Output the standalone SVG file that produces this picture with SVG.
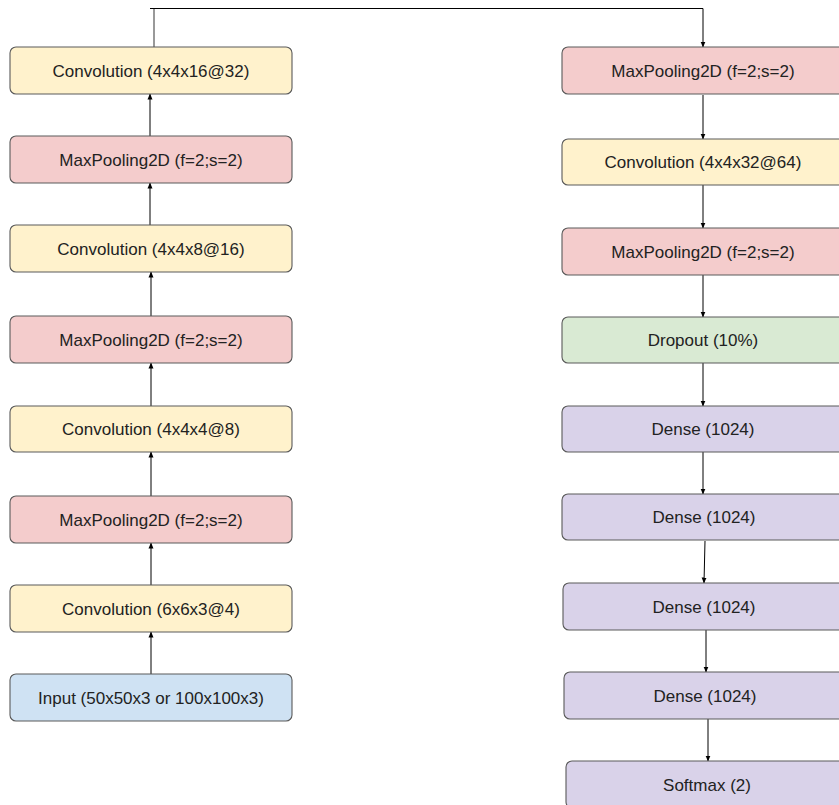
<svg xmlns="http://www.w3.org/2000/svg" width="839" height="805" viewBox="0 0 839 805">
<defs>
<marker id="ah" markerUnits="userSpaceOnUse" markerWidth="6" markerHeight="7" refX="3" refY="6" orient="auto-start-reverse" viewBox="0 0 6 7">
<path d="M0,0 L6,0 L3,6 Z" fill="#000" transform="rotate(0)"/>
</marker>
<marker id="a" markerUnits="userSpaceOnUse" markerWidth="6" markerHeight="6" refX="5.5" refY="3" orient="auto" viewBox="0 0 6 6">
<path d="M0,0.5 L6,3 L0,5.5 Z" fill="#000"/>
</marker>
<style>
rect{stroke:#5a5a5a;stroke-width:1.1}
.y{fill:#fff2cc}.r{fill:#f4cccc}.b{fill:#cfe2f3}.g{fill:#d9ead3}.p{fill:#d9d2e9}
text{font-family:"Liberation Sans",Arial,sans-serif;font-size:17px;fill:#222;text-anchor:middle}
.c line,.c path{stroke:#000;stroke-width:1;fill:none}
</style>
</defs>
<rect width="839" height="805" fill="#fff" style="stroke:none"/>
<g class="c" id="connectors">
<path d="M154,47 V8.5" style="stroke:#777;stroke-width:1.5"/>
<path d="M150,8.5 H703 V47" marker-end="url(#a)"/>
<line x1="151" y1="674" x2="151" y2="632" marker-end="url(#a)"/>
<line x1="151" y1="585" x2="151" y2="543" marker-end="url(#a)"/>
<line x1="151" y1="496" x2="151" y2="452" marker-end="url(#a)"/>
<line x1="151" y1="406" x2="151" y2="363" marker-end="url(#a)"/>
<line x1="151" y1="316" x2="151" y2="272" marker-end="url(#a)"/>
<line x1="150" y1="225" x2="150" y2="183" marker-end="url(#a)"/>
<line x1="150" y1="136" x2="150" y2="94" marker-end="url(#a)"/>
<line x1="703" y1="95" x2="703" y2="139" marker-end="url(#a)"/>
<line x1="703" y1="185" x2="703" y2="228" marker-end="url(#a)"/>
<line x1="703" y1="275" x2="703" y2="317" marker-end="url(#a)"/>
<line x1="703" y1="363" x2="703" y2="406" marker-end="url(#a)"/>
<line x1="703" y1="452" x2="703" y2="494" marker-end="url(#a)"/>
<line x1="705" y1="541" x2="704" y2="583" marker-end="url(#a)"/>
<line x1="706" y1="630" x2="706" y2="672" marker-end="url(#a)"/>
<line x1="708" y1="719" x2="708" y2="761" marker-end="url(#a)"/>
</g>
<g id="l1"><rect class="y" x="10" y="47" width="282" height="47" rx="6"/><text x="151" y="77">Convolution (4x4x16@32)</text></g>
<g id="l2"><rect class="r" x="10" y="136" width="282" height="47" rx="6"/><text x="151" y="166">MaxPooling2D (f=2;s=2)</text></g>
<g id="l3"><rect class="y" x="10" y="225" width="282" height="47" rx="6"/><text x="151" y="255">Convolution (4x4x8@16)</text></g>
<g id="l4"><rect class="r" x="10" y="316" width="282" height="47" rx="6"/><text x="151" y="346">MaxPooling2D (f=2;s=2)</text></g>
<g id="l5"><rect class="y" x="10" y="406" width="282" height="46" rx="6"/><text x="151" y="435">Convolution (4x4x4@8)</text></g>
<g id="l6"><rect class="r" x="10" y="496" width="282" height="47" rx="6"/><text x="151" y="526">MaxPooling2D (f=2;s=2)</text></g>
<g id="l7"><rect class="y" x="10" y="585" width="282" height="47" rx="6"/><text x="151" y="615">Convolution (6x6x3@4)</text></g>
<g id="l8"><rect class="b" x="10" y="674" width="282" height="47" rx="6"/><text x="151" y="704">Input (50x50x3 or 100x100x3)</text></g>
<g id="r1"><rect class="r" x="562" y="47" width="283" height="47" rx="6"/><text x="703" y="77">MaxPooling2D (f=2;s=2)</text></g>
<g id="r2"><rect class="y" x="562" y="139" width="283" height="46" rx="6"/><text x="703" y="168">Convolution (4x4x32@64)</text></g>
<g id="r3"><rect class="r" x="562" y="228" width="283" height="47" rx="6"/><text x="703" y="258">MaxPooling2D (f=2;s=2)</text></g>
<g id="r4"><rect class="g" x="562" y="317" width="283" height="46" rx="6"/><text x="703" y="346">Dropout (10%)</text></g>
<g id="r5"><rect class="p" x="562" y="406" width="283" height="46" rx="6"/><text x="703" y="435">Dense (1024)</text></g>
<g id="r6"><rect class="p" x="562" y="494" width="283" height="46" rx="6"/><text x="704" y="523">Dense (1024)</text></g>
<g id="r7"><rect class="p" x="563" y="583" width="283" height="47" rx="6"/><text x="704" y="613">Dense (1024)</text></g>
<g id="r8"><rect class="p" x="564" y="672" width="283" height="47" rx="6"/><text x="705" y="702">Dense (1024)</text></g>
<g id="r9"><rect class="p" x="566" y="761" width="283" height="47" rx="6"/><text x="707" y="791">Softmax (2)</text></g>
</svg>
